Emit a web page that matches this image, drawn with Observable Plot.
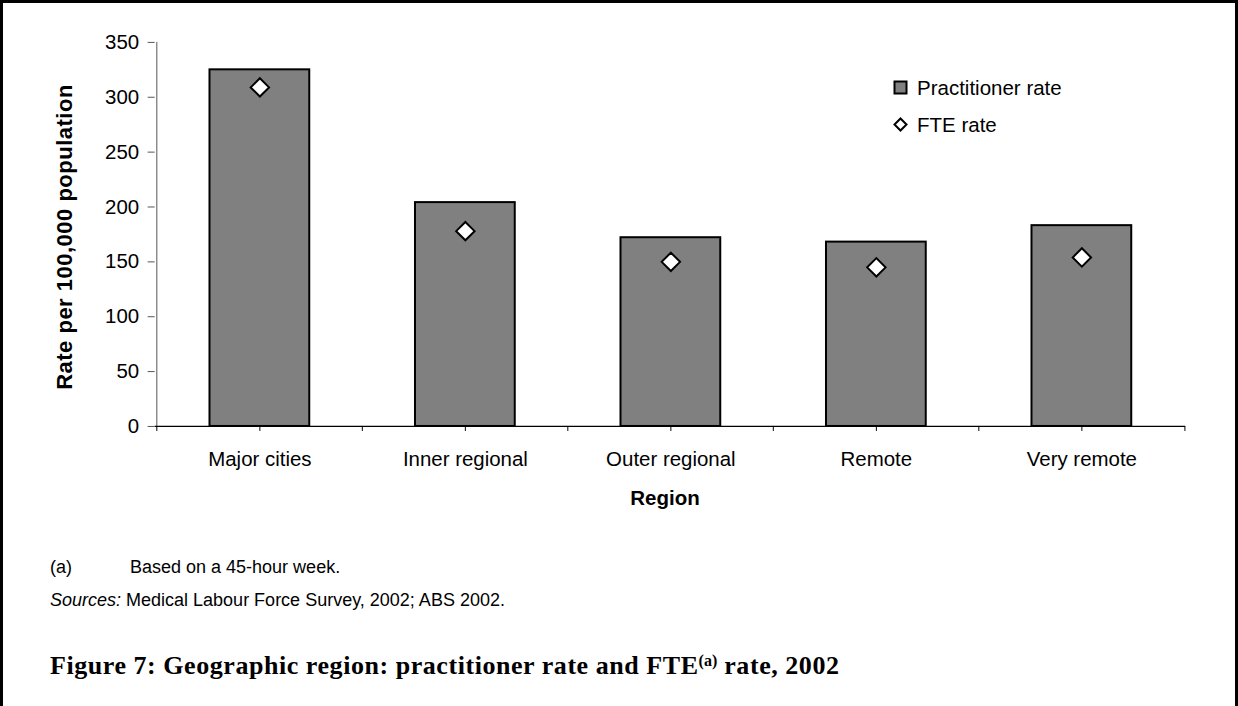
<!DOCTYPE html>
<html>
<head>
<meta charset="utf-8">
<script src="https://cdn.jsdelivr.net/npm/d3@7"></script>
<script src="https://cdn.jsdelivr.net/npm/@observablehq/plot@0.6"></script>
<style>
  html, body { margin: 0; padding: 0; background: #fff; }
  #page { position: relative; width: 1238px; height: 706px; box-sizing: border-box;
    border-left: 3px solid #000; border-top: 3px solid #000; border-right: 3px solid #000; overflow: hidden;
    font-family: "Liberation Sans", Arial, sans-serif; color: #000; }
  #chart { position: absolute; left: -3px; top: -3px; }
  .abs { position: absolute; white-space: nowrap; }
  #ylabel { left: 62px; top: 234px; transform: translate(-50%, -50%) rotate(-90deg); font-weight: bold; font-size: 22px; letter-spacing: 0.5px; }
  #xlabel { left: 662px; top: 483px; transform: translateX(-50%); font-weight: bold; font-size: 20.5px; }
  .legend-item { font-size: 20.5px; display: flex; align-items: center; }
  .legend-item svg { margin-right: 8px; }
  .note { font-size: 18px; }
  #title { left: 47px; top: 648px; font-family: "Liberation Serif", "DejaVu Serif", serif; font-weight: bold; font-size: 26px; letter-spacing: 0.55px; }
  #title sup { font-size: 16px; vertical-align: 8px; line-height: 0; letter-spacing: 0; }
</style>
</head>
<body>
<div id="page">
  <div id="chart"></div>
  <div class="abs" id="ylabel">Rate per 100,000 population</div>
  <div class="abs" id="xlabel">Region</div>
  <div class="abs legend-item" style="left:890px; top:73px;">
    <svg width="16" height="16"><rect x="1.5" y="1.5" width="12" height="12" fill="#808080" stroke="#000" stroke-width="2"/></svg>
    <span>Practitioner rate</span>
  </div>
  <div class="abs legend-item" style="left:890px; top:110px;">
    <svg width="16" height="16"><path d="M7.5,1.5 L13.5,7.5 L7.5,13.5 L1.5,7.5 Z" fill="#fff" stroke="#000" stroke-width="2"/></svg>
    <span>FTE rate</span>
  </div>
  <div class="abs note" style="left:47px; top:554px;">(a)</div>
  <div class="abs note" style="left:127px; top:554px;">Based on a 45-hour week.</div>
  <div class="abs note" style="left:47px; top:587px;"><i>Sources:</i> Medical Labour Force Survey, 2002; ABS 2002.</div>
  <div class="abs" id="title">Figure 7: Geographic region: practitioner rate and FTE<sup>(a)</sup> rate, 2002</div>
</div>
<script>
const categories = ["Major cities", "Inner regional", "Outer regional", "Remote", "Very remote"];
const practitionerRate = [325, 204, 172, 168, 183];
const fteRate = [309, 178, 150, 145, 154];
const yTicks = [0, 50, 100, 150, 200, 250, 300, 350];

const data = categories.map((region, i) => ({region, practitioner: practitionerRate[i], fte: fteRate[i]}));

const W = 1238, H = 520, mL = 155, mR = 50, mT = 42, mB = 93;
const step = (W - mL - mR) / categories.length;

const chart = Plot.plot({
  width: W, height: H,
  marginLeft: mL, marginRight: mR, marginTop: mT, marginBottom: mB,
  style: {fontFamily: "'Liberation Sans', Arial, sans-serif", fontSize: "20.5px", color: "#000", background: "transparent", overflow: "visible"},
  x: {domain: categories, paddingInner: 0.516, paddingOuter: 0.258, label: null},
  y: {domain: [0, 350], label: null},
  marks: [
    Plot.barY(data, {x: "region", y: "practitioner", fill: "#808080", stroke: "#000", strokeWidth: 2}),
    Plot.ruleX([categories[0]], {dx: -step / 2, stroke: "#555", strokeWidth: 1}),
    Plot.ruleY([0], {stroke: "#000", strokeWidth: 1.3}),
    Plot.axisY({ticks: yTicks, tickSize: 7, tickPadding: 9, label: null, tickFormat: d => String(d), stroke: "#555"}),
    Plot.axisX({tickSize: 5, tickPadding: 20, label: null}),
    Plot.axisX({tickSize: 5, text: null, label: null, dx: -step / 2}),
    Plot.axisX([categories[categories.length - 1]], {tickSize: 5, text: null, label: null, dx: step / 2}),
    Plot.dot(data, {x: "region", y: "fte", symbol: "diamond2", r: 8.3, fill: "#fff", stroke: "#000", strokeWidth: 2})
  ]
});
document.getElementById("chart").appendChild(chart);
</script>
</body>
</html>
